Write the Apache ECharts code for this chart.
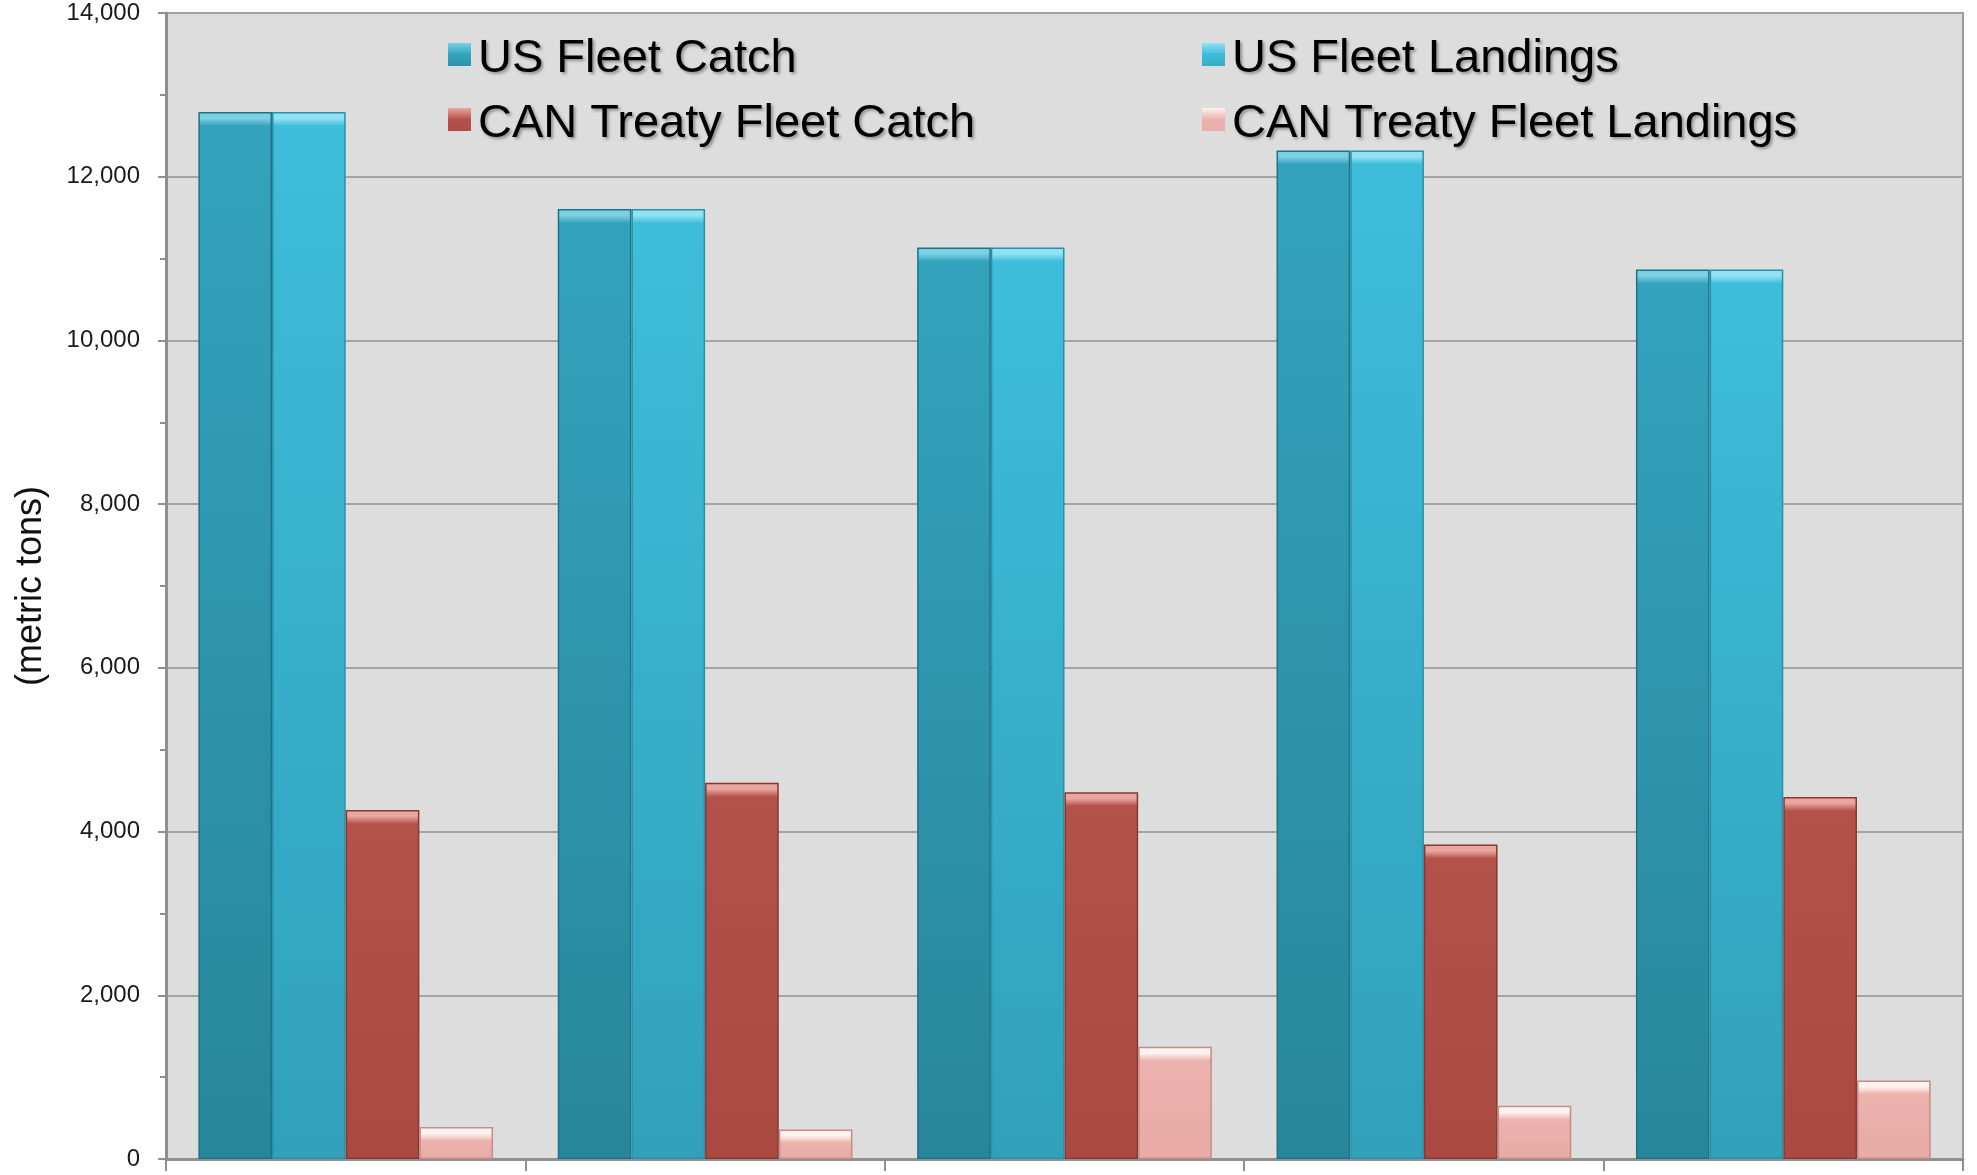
<!DOCTYPE html>
<html>
<head>
<meta charset="utf-8">
<script src="https://cdn.jsdelivr.net/npm/echarts@6/dist/echarts.min.js"></script>
<style>
  html, body { margin: 0; padding: 0; background: #ffffff; }
  #chart { width: 1977px; height: 1175px; }
</style>
</head>
<body>
<div id="chart"></div>
<script>
// Five reporting periods (category labels are not shown on the axis)
const categories = ['1', '2', '3', '4', '5'];

// Metric tons per period
const usFleetCatch = [12790, 11605, 11136, 12321, 10865];
const usFleetLandings = [12790, 11605, 11136, 12321, 10865];
const canTreatyCatch = [4265, 4595, 4481, 3841, 4423];
const canTreatyLandings = [390, 360, 1370, 650, 960];

const yTicks = { min: 0, max: 14000, interval: 2000 };

const FONT = '"Liberation Sans", Arial, Helvetica, sans-serif';

// Shading per series: bevel highlight, body top, body bottom, edge
const palette = {
  'US Fleet Catch':            { light: '#7dd0e2', top: '#33a3bd', bottom: '#28869b', edge: '#1d7286' },
  'US Fleet Landings':         { light: '#92e2f3', top: '#3ebdda', bottom: '#31a1ba', edge: '#2791aa' },
  'CAN Treaty Fleet Catch':    { light: '#eaa6a0', top: '#b3524b', bottom: '#aa4942', edge: '#8a3731' },
  'CAN Treaty Fleet Landings': { light: '#fff3f1', top: '#ecb2ad', bottom: '#e8aba6', edge: '#c48d89' }
};

const chartDom = document.getElementById('chart');
const chart = echarts.init(chartDom, null, { renderer: 'canvas' });

const gridTop = 13, gridBottom = 16;
const plotHeight = 1175 - gridTop - gridBottom;
const bevelPx = 14;

// Each bar gets a vertical gradient with a lighter bevel of fixed pixel height at its top
function shadedData(name, values) {
  const c = palette[name];
  return values.map(v => {
    const h = v / yTicks.max * plotHeight;
    const f = Math.min(0.45, bevelPx / Math.max(h, 1));
    return {
      value: v,
      itemStyle: {
        color: new echarts.graphic.LinearGradient(0, 0, 0, 1, [
          { offset: 0, color: c.light },
          { offset: f * 0.45, color: c.light },
          { offset: f, color: c.top },
          { offset: 1, color: c.bottom }
        ]),
        borderColor: c.edge,
        borderWidth: 1.5
      }
    };
  });
}

function barSeries(name, values) {
  return {
    name: name,
    type: 'bar',
    data: shadedData(name, values),
    barGap: '0%',
    barCategoryGap: '18%',
    itemStyle: { color: palette[name].top },
    emphasis: { disabled: true },
    animation: false
  };
}

const legendIcon = 'path://M0,0L10,0L10,10L0,10Z M0,13.9L0.01,13.9L0.01,13.91Z';

function legendBlock(names, left) {
  return {
    orient: 'vertical',
    left: left,
    top: 34,
    padding: 0,
    itemGap: 15,
    itemWidth: 23,
    itemHeight: 32,
    icon: legendIcon,
    selectedMode: false,
    data: names.map(n => ({
      name: n,
      itemStyle: {
        color: new echarts.graphic.LinearGradient(0, 0, 0, 1, [
          { offset: 0, color: palette[n].light },
          { offset: 0.35, color: palette[n].top },
          { offset: 1, color: palette[n].bottom }
        ]),
        borderWidth: 0
      }
    })),
    textStyle: {
      fontFamily: FONT,
      fontSize: 47,
      lineHeight: 50,
      color: '#000000',
      padding: [0, 0, 0, 2],
      textShadowColor: 'rgba(0,0,0,0.35)',
      textShadowBlur: 3,
      textShadowOffsetX: 2,
      textShadowOffsetY: 2
    }
  };
}

const option = {
  backgroundColor: '#ffffff',
  animation: false,
  grid: {
    left: 166,
    right: 14,
    top: gridTop,
    bottom: gridBottom,
    show: true,
    backgroundColor: '#dddddd',
    borderColor: '#9a9a9a',
    borderWidth: 2,
    containLabel: false
  },
  legend: [
    legendBlock(['US Fleet Catch', 'CAN Treaty Fleet Catch'], 448),
    legendBlock(['US Fleet Landings', 'CAN Treaty Fleet Landings'], 1202)
  ],
  xAxis: {
    type: 'category',
    data: categories,
    boundaryGap: true,
    axisLine: { show: true, lineStyle: { color: '#8f8f8f', width: 3 } },
    axisTick: { show: true, inside: false, length: 12, alignWithLabel: false, lineStyle: { color: '#8f8f8f', width: 2 } },
    axisLabel: { show: false },
    splitLine: { show: false }
  },
  yAxis: {
    type: 'value',
    min: yTicks.min,
    max: yTicks.max,
    interval: yTicks.interval,
    name: '(metric tons)',
    nameLocation: 'middle',
    nameGap: 117,
    nameRotate: 90,
    nameTextStyle: { fontFamily: FONT, fontSize: 36, color: '#111111' },
    axisLine: { show: true, lineStyle: { color: '#8f8f8f', width: 3 } },
    axisTick: { show: true, inside: false, length: 8, lineStyle: { color: '#8f8f8f', width: 2 } },
    minorTick: { show: true, splitNumber: 2, length: 6, lineStyle: { color: '#8f8f8f', width: 2 } },
    axisLabel: {
      fontFamily: FONT,
      fontSize: 24,
      color: '#1a1a1a',
      margin: 26,
      formatter: v => v.toLocaleString('en-US')
    },
    splitLine: { show: true, lineStyle: { color: '#a3a3a3', width: 2 } }
  },
  series: [
    barSeries('US Fleet Catch', usFleetCatch),
    barSeries('US Fleet Landings', usFleetLandings),
    barSeries('CAN Treaty Fleet Catch', canTreatyCatch),
    barSeries('CAN Treaty Fleet Landings', canTreatyLandings)
  ]
};

chart.setOption(option);
</script>
</body>
</html>
